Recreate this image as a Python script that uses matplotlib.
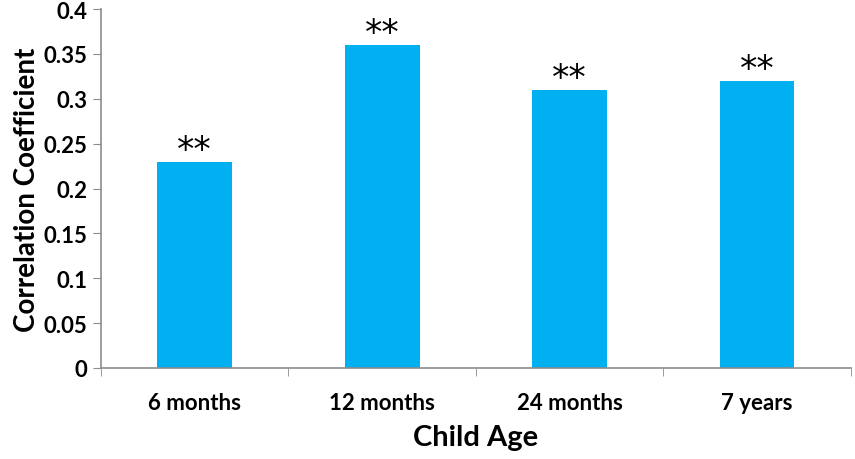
import matplotlib.pyplot as plt
import numpy as np

ages = ['6 months', '12 months', '24 months', '7 years']
corr = [0.23, 0.36, 0.31, 0.32]
sig = ['**', '**', '**', '**']

plt.rcParams['font.family'] = ['Lato', 'DejaVu Sans']
plt.rcParams['font.weight'] = 'bold'

fig = plt.figure(figsize=(8.55, 4.6), dpi=100)
ax = fig.add_axes([0.118, 0.198, 0.877, 0.78])

x = np.arange(len(ages))
ax.bar(x, corr, width=0.4, color='#00B0F0', zorder=2)

# significance markers above bars
for xi, v, s in zip(x, corr, sig):
    ax.text(xi, v - 0.006, s, ha='center', va='bottom', fontsize=25,
            color='black', family='DejaVu Sans', fontweight='normal')

ax.set_xlim(-0.5, len(ages) - 0.5)
ax.set_ylim(0, 0.4)
ax.set_yticks(np.arange(0, 0.41, 0.05))
ax.set_yticklabels(['0', '0.05', '0.1', '0.15', '0.2', '0.25', '0.3', '0.35', '0.4'],
                   fontweight='bold', fontsize=16)

ax.set_xticks(x)
ax.set_xticklabels(ages, fontweight='bold', fontsize=16)
ax.set_xticks(np.arange(-0.5, len(ages), 1), minor=True)
ax.tick_params(axis='x', which='major', length=0, pad=17)
ax.tick_params(axis='x', which='minor', length=6, color='#8c8c8c', direction='out')
ax.tick_params(axis='y', length=6, color='#8c8c8c', pad=4)

for side in ['top', 'right']:
    ax.spines[side].set_visible(False)
for side in ['left', 'bottom']:
    ax.spines[side].set_color('#8c8c8c')
    ax.spines[side].set_linewidth(1.2)

ax.set_xlabel('Child Age', fontsize=21, fontweight='bold', labelpad=8)
ax.set_ylabel('Correlation Coefficient', fontsize=20, fontweight='bold', labelpad=2)

fig.savefig('out.png', dpi=100)
